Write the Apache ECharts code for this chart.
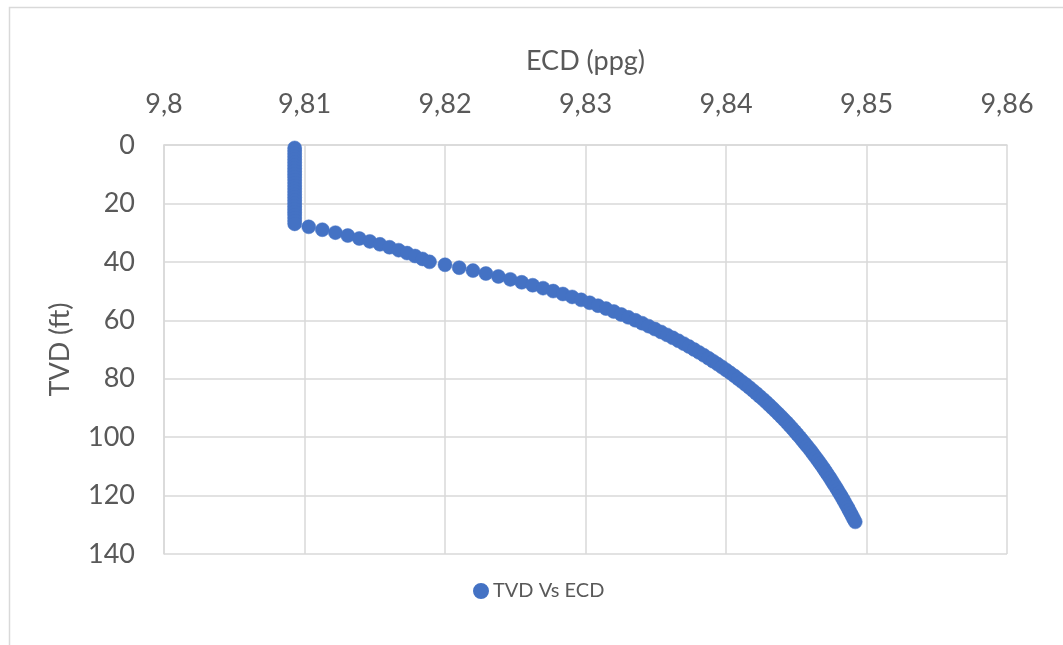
<!DOCTYPE html>
<html>
<head>
<meta charset="utf-8">
<script src="https://cdn.jsdelivr.net/npm/echarts@6/dist/echarts.min.js"></script>
<style>
  html, body { margin: 0; padding: 0; background: #ffffff; }
  #chart { width: 1063px; height: 645px; }
</style>
</head>
<body>
<div id="chart"></div>
<script>
// True vertical depth (ft) of each sample
const tvdFt = [
  1, 2, 3, 4, 5, 6, 7, 8, 9, 10, 11, 12, 13, 14, 15, 16, 17, 18, 19, 20,
  21, 22, 23, 24, 25, 26, 27, 28, 29, 30, 31, 32, 33, 34, 35, 36, 37, 38, 39, 40,
  41, 42, 43, 44, 45, 46, 47, 48, 49, 50, 51, 52, 53, 54, 55, 56, 57, 58, 59, 60,
  61, 62, 63, 64, 65, 66, 67, 68, 69, 70, 71, 72, 73, 74, 75, 76, 77, 78, 79, 80,
  81, 82, 83, 84, 85, 86, 87, 88, 89, 90, 91, 92, 93, 94, 95, 96, 97, 98, 99, 100,
  101, 102, 103, 104, 105, 106, 107, 108, 109, 110, 111, 112, 113, 114, 115, 116, 117, 118, 119, 120,
  121, 122, 123, 124, 125, 126, 127, 128, 129
];

// Equivalent circulating density (ppg) at each depth
const ecdPpg = [
  9.8093, 9.8093, 9.8093, 9.8093, 9.8093, 9.8093, 9.8093, 9.8093, 9.8093, 9.8093,
  9.8093, 9.8093, 9.8093, 9.8093, 9.8093, 9.8093, 9.8093, 9.8093, 9.8093, 9.8093,
  9.8093, 9.8093, 9.8093, 9.8093, 9.8093, 9.8093, 9.8093,
  9.81030, 9.81127, 9.81220, 9.81308, 9.81390, 9.81465, 9.81537, 9.81605, 9.81670, 9.81730,
  9.81787, 9.81840, 9.81890,
  9.82000, 9.82101, 9.82199, 9.82291, 9.82380, 9.82465, 9.82546, 9.82624, 9.82698, 9.82770,
  9.82839, 9.82905, 9.82969, 9.83030, 9.83089, 9.83146, 9.83201, 9.83254, 9.83305, 9.83355,
  9.83403, 9.83449, 9.83494, 9.83538, 9.83580, 9.83621, 9.83661, 9.83699, 9.83737, 9.83773,
  9.83808, 9.83843, 9.83876, 9.83908, 9.83940, 9.83971, 9.84001, 9.84030, 9.84059, 9.84086,
  9.84113, 9.84140, 9.84166, 9.84191, 9.84215, 9.84239, 9.84263, 9.84286, 9.84308, 9.84330,
  9.84351, 9.84372, 9.84393, 9.84413, 9.84433, 9.84452, 9.84471, 9.84489, 9.84507, 9.84525,
  9.84542, 9.84559, 9.84576, 9.84593, 9.84609, 9.84624, 9.84640, 9.84655, 9.84670, 9.84685,
  9.84699, 9.84713, 9.84727, 9.84741, 9.84754, 9.84767, 9.84780, 9.84793, 9.84805, 9.84818,
  9.84830, 9.84842, 9.84853, 9.84865, 9.84876, 9.84887, 9.84898, 9.84909, 9.84920
];

const seriesName = 'TVD Vs ECD';
const xTitle = 'ECD (ppg)';
const yTitle = 'TVD (ft)';

const points = tvdFt.map((d, i) => [ecdPpg[i], d]);

const FONT = 'Lato';
const TEXT = '#595959';
const GRID = '#d9d9d9';
const BLUE = '#4472C4';

const chart = echarts.init(document.getElementById('chart'), null, { renderer: 'canvas' });

chart.setOption({
  backgroundColor: '#ffffff',
  animation: false,
  textStyle: { fontFamily: FONT },
  graphic: [{
    type: 'rect',
    left: 7, top: 5,
    shape: { width: 1100, height: 700 },
    style: { fill: 'none', stroke: GRID, lineWidth: 1.5 },
    silent: true,
    z: -1
  }],
  grid: { left: 164, right: 56, top: 145, bottom: 91, containLabel: false },
  legend: {
    data: [seriesName],
    left: 468,
    top: 576,
    icon: 'circle',
    itemWidth: 14,
    itemHeight: 14,
    itemGap: 10,
    textStyle: { fontFamily: FONT, fontSize: 20, color: TEXT }
  },
  xAxis: {
    type: 'value',
    position: 'top',
    min: 9.80,
    max: 9.86,
    interval: 0.01,
    name: xTitle,
    nameLocation: 'middle',
    nameGap: 70,
    nameTextStyle: { fontFamily: FONT, fontSize: 27, color: TEXT },
    axisLine: { show: true, lineStyle: { color: GRID, width: 1.5 } },
    axisTick: { show: false },
    axisLabel: {
      margin: 27,
      fontFamily: FONT,
      fontSize: 27,
      color: TEXT,
      formatter: v => String(+v.toFixed(2)).replace('.', ',')
    },
    splitLine: { show: true, lineStyle: { color: GRID, width: 1.5 } }
  },
  yAxis: {
    type: 'value',
    inverse: true,
    min: 0,
    max: 140,
    interval: 20,
    name: yTitle,
    nameLocation: 'middle',
    nameGap: 90,
    nameRotate: 90,
    nameTextStyle: { fontFamily: FONT, fontSize: 27, color: TEXT },
    axisLine: { show: true, lineStyle: { color: GRID, width: 1.5 } },
    axisTick: { show: false },
    axisLabel: { margin: 29, fontFamily: FONT, fontSize: 27, color: TEXT },
    splitLine: { show: true, lineStyle: { color: GRID, width: 1.5 } }
  },
  series: [{
    name: seriesName,
    type: 'scatter',
    data: points,
    symbol: 'circle',
    symbolSize: 14,
    itemStyle: { color: BLUE, borderColor: BLUE, borderWidth: 0.5, opacity: 1 },
    emphasis: { disabled: true }
  }]
});
</script>
</body>
</html>
